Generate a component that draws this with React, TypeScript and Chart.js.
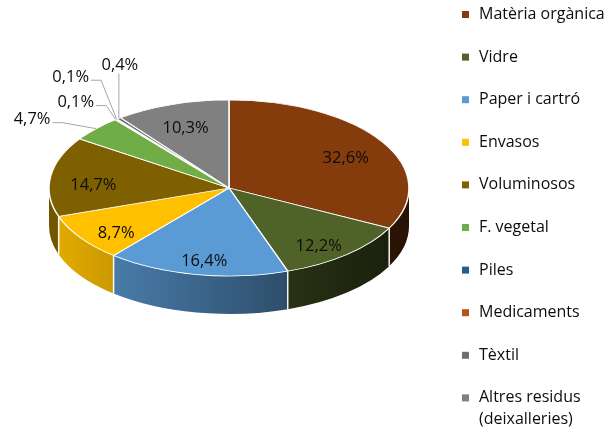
import React, { useEffect, useRef } from 'react';
import { Chart, registerables } from 'chart.js';

Chart.register(...registerables);

// ---- data ----
const categories = [
  'Matèria orgànica',
  'Vidre',
  'Paper i cartró',
  'Envasos',
  'Voluminosos',
  'F. vegetal',
  'Piles',
  'Medicaments',
  'Tèxtil',
  'Altres residus\n(deixalleries)',
];
const values = [32.6, 12.2, 16.4, 8.7, 14.7, 4.7, 0.1, 0.1, 0.4, 10.3];
const colors = [
  '#843c0c',
  '#4f6228',
  '#5b9bd5',
  '#ffc000',
  '#7f6000',
  '#70ad47',
  '#255e91',
  '#b4531a',
  '#6f6f6f',
  '#808080',
];

// ---- style / layout ----
const FONT = '16px "Open Sans", Lato, sans-serif';
const LABEL_FONT = '16.5px "Open Sans", Lato, sans-serif';
const TEXT_COLOR = '#0d0d0d';
const TILT = 0.489;
const DEPTH = 38;
const LABEL_FRAC = 0.76;
// outside labels: text centre offset from the slice's rim point
const OUTSIDE: Record<number, { dx: number; dy: number; kind: 'elbow' | 'vertical' }> = {
  5: { dx: -64, dy: -9, kind: 'elbow' },
  6: { dx: -40, dy: -17, kind: 'elbow' },
  7: { dx: -46, dy: -42, kind: 'elbow' },
  8: { dx: 1, dy: -53, kind: 'vertical' },
};

function shade(hex: string, f: number) {
  const n = parseInt(hex.slice(1), 16);
  const r = Math.round(((n >> 16) & 255) * f);
  const g = Math.round(((n >> 8) & 255) * f);
  const b = Math.round((n & 255) * f);
  return `rgb(${r},${g},${b})`;
}

function fmt(v: number) {
  return v.toFixed(1).replace('.', ',') + '%';
}

const pie3d = {
  id: 'pie3d',
  beforeDatasetsDraw(chart: any) {
    const ctx: CanvasRenderingContext2D = chart.ctx;
    const arcs = chart.getDatasetMeta(0).data;
    if (!arcs.length) return;
    const { x: cx, y: cy, outerRadius: r } = arcs[0].getProps(['x', 'y', 'outerRadius'], true);
    const ry = r * TILT;
    const cols = chart.data.datasets[0].backgroundColor;
    ctx.save();
    arcs.forEach((arc: any, i: number) => {
      const { startAngle, endAngle } = arc.getProps(['startAngle', 'endAngle'], true);
      const a1 = Math.max(startAngle, 0);
      const a2 = Math.min(endAngle, Math.PI);
      if (a2 <= a1) return;
      const g = ctx.createLinearGradient(cx - r, 0, cx + r, 0);
      g.addColorStop(0, shade(cols[i], 0.9));
      g.addColorStop(1, shade(cols[i], 0.3));
      ctx.beginPath();
      ctx.ellipse(cx, cy, r, ry, 0, a1, a2);
      ctx.lineTo(cx + r * Math.cos(a2), cy + ry * Math.sin(a2) + DEPTH);
      ctx.ellipse(cx, cy + DEPTH, r, ry, 0, a2, a1, true);
      ctx.closePath();
      ctx.fillStyle = g;
      ctx.fill();
    });
    ctx.strokeStyle = 'rgba(255,255,255,0.95)';
    ctx.lineWidth = 1.5;
    arcs.forEach((arc: any) => {
      const { startAngle } = arc.getProps(['startAngle'], true);
      if (startAngle > 0.01 && startAngle < Math.PI - 0.01) {
        const x = cx + r * Math.cos(startAngle);
        const y = cy + ry * Math.sin(startAngle);
        ctx.beginPath();
        ctx.moveTo(x, y);
        ctx.lineTo(x, y + DEPTH);
        ctx.stroke();
      }
    });
    ctx.restore();
    ctx.save();
    ctx.translate(cx, cy);
    ctx.scale(1, TILT);
    ctx.translate(-cx, -cy);
  },
  afterDatasetsDraw(chart: any) {
    const ctx: CanvasRenderingContext2D = chart.ctx;
    ctx.restore();
    const arcs = chart.getDatasetMeta(0).data;
    if (!arcs.length) return;
    const { x: cx, y: cy, outerRadius: r } = arcs[0].getProps(['x', 'y', 'outerRadius'], true);
    const ry = r * TILT;
    const vals = chart.data.datasets[0].data as number[];
    ctx.save();
    ctx.font = LABEL_FONT;
    ctx.fillStyle = TEXT_COLOR;
    ctx.textAlign = 'center';
    ctx.textBaseline = 'middle';
    arcs.forEach((arc: any, i: number) => {
      const { startAngle, endAngle } = arc.getProps(['startAngle', 'endAngle'], true);
      const mid = (startAngle + endAngle) / 2;
      const text = fmt(vals[i]);
      const out = OUTSIDE[i];
      if (!out) {
        const x = cx + r * LABEL_FRAC * Math.cos(mid);
        const y = cy + ry * LABEL_FRAC * Math.sin(mid) + 6 + 2 * Math.sin(mid);
        ctx.fillText(text, x, y);
        return;
      }
      const ax = cx + r * Math.cos(mid);
      const ay = cy + ry * Math.sin(mid);
      const tx = ax + out.dx;
      const ty = ay + out.dy;
      ctx.fillText(text, tx, ty);
      const w = ctx.measureText(text).width;
      ctx.beginPath();
      ctx.strokeStyle = '#a6a6a6';
      ctx.lineWidth = 1;
      if (out.kind === 'elbow') {
        const sx = tx + w / 2 + 2;
        const ly = ty + 3;
        ctx.moveTo(sx, ly);
        ctx.lineTo(sx + 10, ly);
        ctx.lineTo(ax, ay);
      } else {
        ctx.moveTo(ax, ty + 8);
        ctx.lineTo(ax, ay);
      }
      ctx.stroke();
    });
    ctx.restore();
  },
  afterDraw(chart: any) {
    const ctx: CanvasRenderingContext2D = chart.ctx;
    const labels = chart.data.labels as string[];
    const cols = chart.data.datasets[0].backgroundColor as string[];
    const markerX = 462;
    const textX = 479;
    const y0 = 14.5;
    const step = 42.6;
    const lineH = 22;
    ctx.save();
    ctx.font = FONT;
    ctx.textAlign = 'left';
    ctx.textBaseline = 'middle';
    labels.forEach((lab, i) => {
      const y = y0 + i * step;
      ctx.fillStyle = cols[i];
      ctx.fillRect(markerX, y - 3.5, 7, 7);
      ctx.fillStyle = TEXT_COLOR;
      lab.split('\n').forEach((ln, j) => ctx.fillText(ln, textX, y + j * lineH));
    });
    ctx.restore();
  },
};

export default function App() {
  const ref = useRef<HTMLCanvasElement | null>(null);
  useEffect(() => {
    if (!ref.current) return;
    const chart = new Chart(ref.current, {
      type: 'pie',
      data: {
        labels: categories,
        datasets: [
          {
            data: values,
            backgroundColor: colors,
            borderColor: '#ffffff',
            borderWidth: 1.5,
          },
        ],
      },
      options: {
        responsive: false,
        animation: false,
        radius: 180,
        layout: { padding: { left: 49, right: 197, top: 8, bottom: 64 } },
        plugins: {
          legend: { display: false },
          tooltip: { enabled: false },
        },
      } as any,
      plugins: [pie3d],
    });
    return () => chart.destroy();
  }, []);
  return (
    <div style={{ position: 'absolute', left: 0, top: 0, width: 606, height: 432, background: '#fff' }}>
      <canvas ref={ref} width={606} height={432} style={{ display: 'block', width: 606, height: 432 }} />
    </div>
  );
}
